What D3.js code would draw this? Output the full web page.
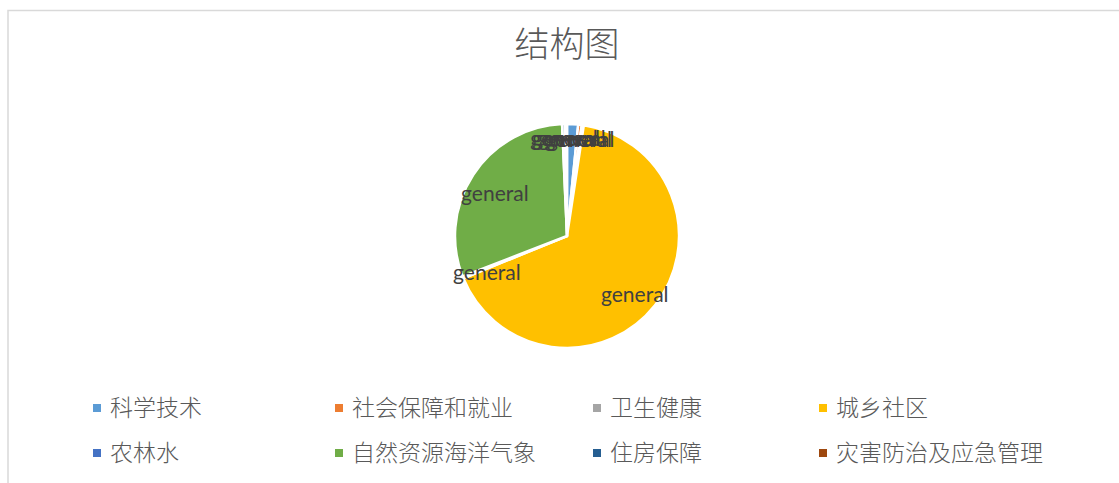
<!DOCTYPE html>
<html><head><meta charset="utf-8">
<script src="https://cdn.jsdelivr.net/npm/d3@7"></script>
<style>body{margin:0;background:#fff}svg{display:block}</style>
</head><body>
<svg id="c" width="1119" height="483"></svg>
<script>
const title = "结构图";
const categories = ["科学技术","社会保障和就业","卫生健康","城乡社区","农林水","自然资源海洋气象","住房保障","灾害防治及应急管理"];
const values = [1.6, 0.5, 0.3, 66.5, 0.3, 30.2, 0.4, 0.3];
const labels = ["general","general","general","general","general","general","general","general"];
const colors = ["#5B9BD5","#ED7D31","#A5A5A5","#FFC000","#4472C4","#70AD47","#255E91","#9E480E"];

const svg = d3.select("#c");
svg.append("rect").attr("x",8).attr("y",10.5).attr("width",1200).attr("height",600)
  .attr("fill","#fff").attr("stroke","#d9d9d9").attr("stroke-width",1.5);

svg.append("text").attr("x",567).attr("y",57).attr("text-anchor","middle")
  .attr("font-family","'Noto Sans CJK SC'").attr("font-weight",300).attr("font-size",35).attr("fill","#595959").text(title);

const cx = 567, cy = 236, R = 112;
const data = categories.map((c,i)=>({cat:c, value:values[i], label:labels[i], color:colors[i]}));
const pie = d3.pie().value(d=>d.value).sort(null);
const arcs = pie(data);
const arc = d3.arc().innerRadius(0).outerRadius(R);
const labelArc = d3.arc().innerRadius(R*0.77).outerRadius(R*0.77);
const smallArc = d3.arc().innerRadius(R*0.87).outerRadius(R*0.87);
const g = svg.append("g").attr("transform",`translate(${cx},${cy})`);
g.selectAll("path").data(arcs).join("path")
  .attr("d",arc).attr("fill",d=>d.data.color).attr("stroke","#fff").attr("stroke-width",2.5).attr("stroke-linejoin","round");
g.selectAll("text").data(arcs).join("text")
  .attr("transform",d=>{
    const small = (d.endAngle-d.startAngle) < 0.15 && (d.startAngle < 1 || d.startAngle > 6);
    const p = small ? smallArc.centroid(d) : labelArc.centroid(d);
    return `translate(${p[0]},${p[1] + (small?0:5)})`;
  })
  .attr("text-anchor","middle").attr("dy","0.35em")
  .attr("font-family","Lato").attr("font-size",21).attr("fill","#404040")
  .text(d=>d.data.label);

const legX = [97, 339, 597, 823];
const legY = [408, 453];
const leg = svg.append("g");
data.forEach((d,i)=>{
  const x = legX[i%4], y = legY[Math.floor(i/4)];
  leg.append("rect").attr("x",x-4).attr("y",y-4).attr("width",8).attr("height",8).attr("fill",d.color);
  leg.append("text").attr("x",x+13).attr("y",y).attr("dy","0.35em")
    .attr("font-family","'Noto Sans CJK SC'").attr("font-weight",300).attr("font-size",23).attr("fill","#595959").text(d.cat);
});
</script>
</body></html>
